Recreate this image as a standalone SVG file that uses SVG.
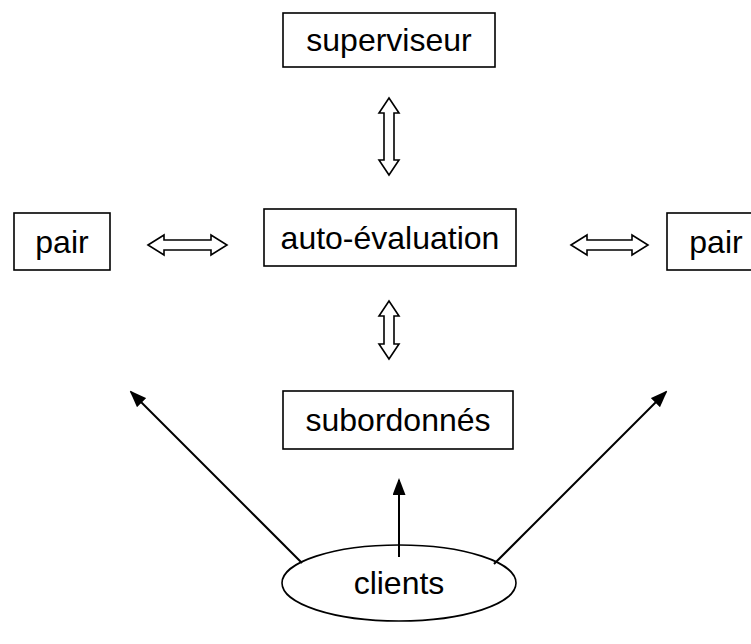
<svg xmlns="http://www.w3.org/2000/svg" width="751" height="644" viewBox="0 0 751 644">
<style>
.box{fill:#fff;stroke:#000;stroke-width:1.6}
.lbl{font-family:"Liberation Sans",Arial,sans-serif;font-size:32px;fill:#000;text-anchor:middle}
.dbl{fill:#fff;stroke:#000;stroke-width:1.6;stroke-linejoin:miter}
.ln{stroke:#000;stroke-width:2;fill:none}
</style>
<defs>
<marker id="ah" markerWidth="17" markerHeight="13" refX="15" refY="6.5" orient="auto" markerUnits="userSpaceOnUse">
<path d="M0,0 L17,6.5 L0,13 Z" fill="#000"/>
</marker>
</defs>
<rect width="751" height="644" fill="#fff"/>
<g id="superviseur"><rect class="box" x="283" y="13" width="212" height="54"/><text class="lbl" x="389" y="51">superviseur</text></g>
<g id="auto-evaluation"><rect class="box" x="264" y="209" width="252" height="57"/><text class="lbl" x="390" y="249">auto-évaluation</text></g>
<g id="pair-left"><rect class="box" x="14" y="213" width="96" height="57"/><text class="lbl" x="62" y="253">pair</text></g>
<g id="pair-right"><rect class="box" x="667" y="213" width="100" height="57"/><text class="lbl" x="716" y="253">pair</text></g>
<g id="subordonnes"><rect class="box" x="283" y="391" width="230" height="58"/><text class="lbl" x="398" y="431">subordonnés</text></g>
<g id="clients"><ellipse class="box" cx="399" cy="583" rx="117" ry="38"/><text class="lbl" x="399" y="594">clients</text></g>
<g id="connectors">
<polygon class="dbl" points="389,98 399,113 394,113 394,160 399,160 389,175 379,160 384,160 384,113 379,113"/>
<polygon class="dbl" points="389,301 399,316 394,316 394,344 399,344 389,359 379,344 384,344 384,316 379,316"/>
<polygon class="dbl" points="148,245 164,235 164,240 211,240 211,235 227,245 211,255 211,250 164,250 164,255"/>
<polygon class="dbl" points="571,245 587,235 587,240 632,240 632,235 648,245 632,255 632,250 587,250 587,255"/>
<line class="ln" x1="302" y1="563" x2="131" y2="392" marker-end="url(#ah)"/>
<line class="ln" x1="399" y1="557" x2="399" y2="480" marker-end="url(#ah)"/>
<line class="ln" x1="494" y1="564" x2="666" y2="392" marker-end="url(#ah)"/>
</g>
</svg>
